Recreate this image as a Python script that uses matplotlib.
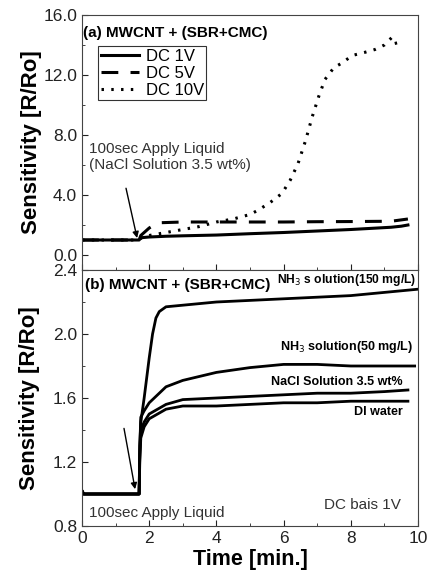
import matplotlib
matplotlib.use("Agg")
import matplotlib.pyplot as plt
from matplotlib.ticker import MultipleLocator

plt.rcParams["font.family"] = ["Liberation Sans", "DejaVu Sans"]

# ---- panel (a): MWCNT + (SBR+CMC), different DC voltages ----
t_1v = [0, 1.7, 1.75, 2.0, 2.5, 3.0, 4.0, 5.0, 6.0, 7.0, 8.0, 9.2, 9.5, 9.7]
s_1v = [1.0, 1.0, 1.15, 1.2, 1.25, 1.28, 1.33, 1.42, 1.5, 1.6, 1.7, 1.85, 1.92, 2.0]

t_5v = [0, 1.7, 1.75, 1.9, 2.0, 2.15, 2.3, 3.0, 4.0, 5.0, 6.0, 7.0, 8.0, 9.2, 9.7]
s_5v = [1.0, 1.0, 1.3, 1.6, 1.8, 2.0, 2.15, 2.2, 2.2, 2.2, 2.2, 2.22, 2.23, 2.25, 2.4]

t_10v = [0, 1.7, 1.8, 2.0, 2.5, 3.0, 3.5, 4.0, 4.5, 5.0, 5.25, 5.6, 5.95, 6.2,
         6.43, 6.65, 6.85, 7.05, 7.23, 7.5, 7.74, 8.04, 8.4, 8.72, 9.0, 9.22, 9.3, 9.5]
s_10v = [1.0, 1.0, 1.2, 1.3, 1.5, 1.7, 1.9, 2.2, 2.4, 2.7, 3.0, 3.5, 4.1, 5.0,
         6.1, 7.6, 9.2, 10.6, 11.7, 12.5, 12.8, 13.3, 13.5, 13.7, 14.0, 14.5, 14.1, 14.2]

# ---- panel (b): DC bias 1V, different liquids ----
t_nh3_150 = [0, 0.05, 1.7, 1.72, 1.75, 1.85, 2.0, 2.1, 2.2, 2.3, 2.5, 3.0, 4.0,
             5.0, 6.0, 7.0, 8.0, 9.0, 9.5, 10.0]
s_nh3_150 = [1.02, 1.0, 1.0, 1.3, 1.45, 1.6, 1.85, 2.0, 2.1, 2.14, 2.17, 2.18, 2.2,
             2.21, 2.22, 2.23, 2.24, 2.26, 2.27, 2.28]

t_nh3_50 = [0, 0.05, 1.7, 1.72, 1.75, 1.85, 2.0, 2.5, 3.0, 4.0, 5.0, 6.0, 7.0, 8.0, 9.0, 9.9]
s_nh3_50 = [1.02, 1.0, 1.0, 1.3, 1.48, 1.52, 1.57, 1.67, 1.71, 1.76, 1.79, 1.81, 1.81,
            1.8, 1.8, 1.8]

t_nacl = [0, 0.05, 1.7, 1.72, 1.75, 1.85, 2.0, 2.5, 3.0, 4.0, 5.0, 6.0, 7.0, 8.0, 9.0, 9.7]
s_nacl = [1.02, 1.0, 1.0, 1.25, 1.4, 1.45, 1.5, 1.56, 1.59, 1.6, 1.61, 1.62, 1.63,
          1.63, 1.64, 1.65]

t_di = [0, 0.05, 1.7, 1.72, 1.75, 1.85, 2.0, 2.5, 3.0, 4.0, 5.0, 6.0, 7.0, 8.0, 9.0, 9.7]
s_di = [1.02, 1.0, 1.0, 1.2, 1.35, 1.42, 1.47, 1.53, 1.55, 1.55, 1.56, 1.57, 1.57,
        1.58, 1.58, 1.58]

W, H = 430, 579
fig = plt.figure(figsize=(W / 100, H / 100), dpi=100)
L, R = 82 / W, 418 / W
ax_a = fig.add_axes([L, 1 - 270 / H, R - L, (270 - 15) / H])
ax_b = fig.add_axes([L, 1 - 526 / H, R - L, (526 - 270) / H])

for ax in (ax_a, ax_b):
    ax.set_xlim(0, 10)
    ax.xaxis.set_major_locator(MultipleLocator(2))
    ax.xaxis.set_minor_locator(MultipleLocator(1))
    ax.tick_params(which="both", direction="in", labelsize=12.5, colors="#222222")
    ax.tick_params(which="major", length=4)
    ax.tick_params(which="minor", length=2.5)
    for sp in ax.spines.values():
        sp.set_linewidth(0.8)
        sp.set_color("#444444")

# panel (a)
ax_a.plot(t_1v, s_1v, color="black", lw=2.2, ls="-", label="DC 1V")
ax_a.plot(t_5v, s_5v, color="black", lw=2.2, ls=(0, (5.5, 4)), label="DC 5V")
ax_a.plot(t_10v, s_10v, color="black", lw=2.2, ls=(0, (0.8, 2.4)), label="DC 10V")
ax_a.set_ylim(-1, 16)
ax_a.yaxis.set_minor_locator(MultipleLocator(2))
ax_a.set_yticks([0, 4, 8, 12, 16])
ax_a.set_yticklabels(["0.0", "4.0", "8.0", "12.0", "16.0"])
ax_a.tick_params(axis="x", labelbottom=False)
ax_a.set_ylabel("Sensitivity [R/Ro]", fontsize=16, fontweight="bold", labelpad=1)
ax_a.text(0.004, 0.929, "(a) MWCNT + (SBR+CMC)", transform=ax_a.transAxes,
          fontsize=11, fontweight="bold", va="center", ha="left")
leg = ax_a.legend(loc="upper left", bbox_to_anchor=(0.048, 0.878), fontsize=12,
                  frameon=True, fancybox=False, edgecolor="black", handlelength=2.3,
                  borderpad=0.15, labelspacing=0.12, handletextpad=0.4, borderaxespad=0)
leg.get_frame().set_linewidth(0.8)
ax_a.text(0.22, 6.55, "100sec Apply Liquid\n(NaCl Solution 3.5 wt%)", fontsize=11,
          color="#333333", ha="left", va="center", linespacing=1.2)
ax_a.annotate("", xy=(1.64, 1.13), xytext=(1.31, 4.45),
              arrowprops=dict(arrowstyle="-|>", color="black", lw=1.0,
                              shrinkA=0, shrinkB=0, mutation_scale=9))

# panel (b)
for tt, ss in ((t_nh3_150, s_nh3_150), (t_nh3_50, s_nh3_50),
               (t_nacl, s_nacl), (t_di, s_di)):
    ax_b.plot(tt, ss, color="black", lw=2.0)
ax_b.set_ylim(0.8, 2.4)
ax_b.yaxis.set_minor_locator(MultipleLocator(0.2))
ax_b.set_yticks([0.8, 1.2, 1.6, 2.0, 2.4])
ax_b.set_yticklabels(["0.8", "1.2", "1.6", "2.0", "2.4"])
ax_b.set_xticks([0, 2, 4, 6, 8, 10])
ax_b.set_xticklabels(["0", "2", "4", "6", "8", "10"])
ax_b.set_xlabel("Time [min.]", fontsize=15.5, fontweight="bold", labelpad=2)
ax_b.set_ylabel("Sensitivity [R/Ro]", fontsize=16, fontweight="bold", labelpad=9)
ax_b.text(0.008, 0.941, "(b) MWCNT + (SBR+CMC)", transform=ax_b.transAxes,
          fontsize=11, fontweight="bold", va="center", ha="left")
ax_b.text(0.995, 0.961, "NH$_3$ s olution(150 mg/L)", transform=ax_b.transAxes,
          fontsize=8.7, fontweight="bold", va="center", ha="right")
ax_b.text(9.87, 1.917, "NH$_3$ solution(50 mg/L)", fontsize=9, fontweight="bold",
          ha="right", va="center")
ax_b.text(9.55, 1.703, "NaCl Solution 3.5 wt%", fontsize=9, fontweight="bold",
          ha="right", va="center")
ax_b.text(9.55, 1.515, "DI water", fontsize=9, fontweight="bold", ha="right", va="center")
ax_b.text(9.5, 0.93, "DC bais 1V", fontsize=11, color="#333333", ha="right", va="center")
ax_b.text(0.22, 0.883, "100sec Apply Liquid", fontsize=11, color="#333333",
          ha="left", va="center")
ax_b.annotate("", xy=(1.58, 1.03), xytext=(1.25, 1.41),
              arrowprops=dict(arrowstyle="-|>", color="black", lw=1.0,
                              shrinkA=0, shrinkB=0, mutation_scale=9))

fig.savefig("out.png", dpi=100)
